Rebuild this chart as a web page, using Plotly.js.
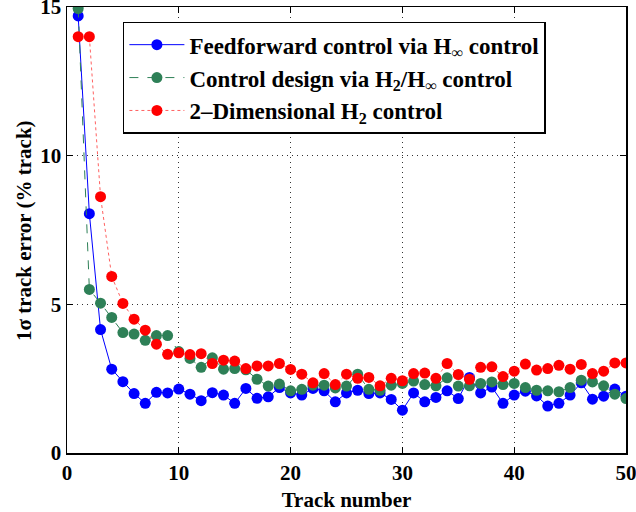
<!DOCTYPE html>
<html>
<head>
<meta charset="utf-8">
<script src="https://cdn.plot.ly/plotly-3.0.1.min.js"></script>
<style>html,body{margin:0;padding:0;background:#fff;}#chart{width:636px;height:512px;}</style>
</head>
<body>
<div id="chart"></div>
<script>
const tracks = Array.from({length: 50}, (_, i) => i + 1);
const feedforwardHinf = [14.7, 8.05, 4.15, 2.82, 2.4, 2.0, 1.67, 2.04, 2.02, 2.15,
  1.98, 1.76, 2.03, 1.95, 1.67, 2.17, 1.84, 1.89, 2.2, 2.02,
  1.95, 2.17, 2.09, 1.72, 2.02, 2.11, 2.0, 2.02, 1.8, 1.44,
  2.02, 1.72, 1.87, 2.09, 1.83, 2.54, 2.02, 2.22, 1.67, 1.95,
  2.08, 1.92, 1.58, 1.67, 1.95, 2.36, 1.81, 1.91, 2.15, 1.91];
const designH2Hinf = [14.95, 5.5, 5.04, 4.56, 4.05, 4.0, 3.79, 3.95, 3.95, 3.41,
  3.18, 2.88, 3.2, 2.82, 2.84, 2.8, 2.48, 2.25, 2.32, 2.09,
  2.14, 2.28, 2.28, 2.19, 2.25, 2.65, 2.14, 2.11, 2.28, 2.34,
  2.42, 2.3, 2.26, 2.53, 2.25, 2.26, 2.34, 2.39, 2.3, 2.34,
  2.2, 2.11, 2.09, 2.06, 2.2, 2.45, 2.39, 2.26, 1.98, 1.83];
const twoDimH2 = [14.0, 14.0, 8.62, 5.94, 5.03, 4.5, 4.13, 3.66, 3.32, 3.37,
  3.31, 3.34, 3.01, 3.12, 3.09, 2.84, 2.93, 2.93, 3.01, 2.81,
  2.65, 2.36, 2.67, 2.3, 2.65, 2.51, 2.54, 2.26, 2.51, 2.43,
  2.67, 2.69, 2.51, 3.01, 2.64, 2.48, 2.88, 2.9, 2.57, 2.75,
  2.99, 2.79, 2.84, 2.95, 2.82, 2.98, 2.67, 2.75, 3.03, 3.03];
const names = ['Feedforward control via H<sub>∞</sub> control',
  'Control design via H<sub>2</sub>/H<sub>∞</sub> control',
  '2\u2013Dimensional H<sub>2</sub> control'];
const xTicks = [0, 10, 20, 30, 40, 50];
const yTicks = [0, 5, 10, 15];
const xTitle = 'Track number';
const yTitle = '1σ track error (% track)';

const font = '"Liberation Serif", "Times New Roman", serif';
const traces = [
  {x: tracks, y: feedforwardHinf, name: '<b>' + names[0] + '</b>', legendgroup: 'a', mode: 'lines+markers', type: 'scatter',
   line: {color: '#0000ff', width: 1}, marker: {color: '#0000ff', size: 11}},
  {x: tracks, y: designH2Hinf, name: '<b>' + names[1] + '</b>', legendgroup: 'b', mode: 'lines+markers', type: 'scatter',
   line: {color: '#2e8057', width: 1, dash: 'dash'}, marker: {color: '#2e8057', size: 11}},
  {x: tracks, y: twoDimH2, name: '<b>' + names[2] + '</b>', legendgroup: 'c', mode: 'lines+markers', type: 'scatter',
   line: {color: '#ff6060', width: 1, dash: 'dot'}, marker: {color: '#ff0000', size: 11}}
];
const axisCommon = {
  showline: true, linecolor: '#000', linewidth: 1.5, mirror: 'ticks',
  ticks: 'inside', ticklen: 6, tickcolor: '#000', tickwidth: 1,
  showgrid: true, gridcolor: '#333', griddash: '1px,4px', gridwidth: 1,
  zeroline: false, automargin: false, ticklabeloverflow: 'allow',
  tickfont: {family: font, size: 21, color: '#000'}
};
const layout = {
  width: 636, height: 512,
  margin: {l: 67, r: 10, t: 7, b: 59},
  paper_bgcolor: '#fff', plot_bgcolor: '#fff',
  font: {family: font, color: '#000'},
  showlegend: true,
  legend: {x: 0.1, y: 0.967, xanchor: 'left', yanchor: 'top',
    bgcolor: '#fff', bordercolor: '#000', borderwidth: 1.5,
    font: {family: font, size: 23, color: '#000'},
    tracegroupgap: 10, itemwidth: 55, traceorder: 'normal'},
  xaxis: Object.assign({}, axisCommon, {range: [0, 50], tickvals: xTicks, ticktext: xTicks.map(v => '<b>' + v + '</b>'),
    title: {text: '<b>' + xTitle + '</b>', font: {family: font, size: 21, color: '#000'}}}),
  yaxis: Object.assign({}, axisCommon, {range: [0, 15], tickvals: yTicks, ticktext: yTicks.map(v => '<b>' + v + '</b>')}),
  annotations: [
    {text: '<b>' + yTitle + '</b>', xref: 'paper', yref: 'paper', x: -0.077, y: 0.5,
     xanchor: 'center', yanchor: 'middle', textangle: -90, showarrow: false,
     font: {family: font, size: 21, color: '#000'}}
  ]
};
Plotly.newPlot('chart', traces, layout, {displayModeBar: false, staticPlot: true});
</script>
</body>
</html>
